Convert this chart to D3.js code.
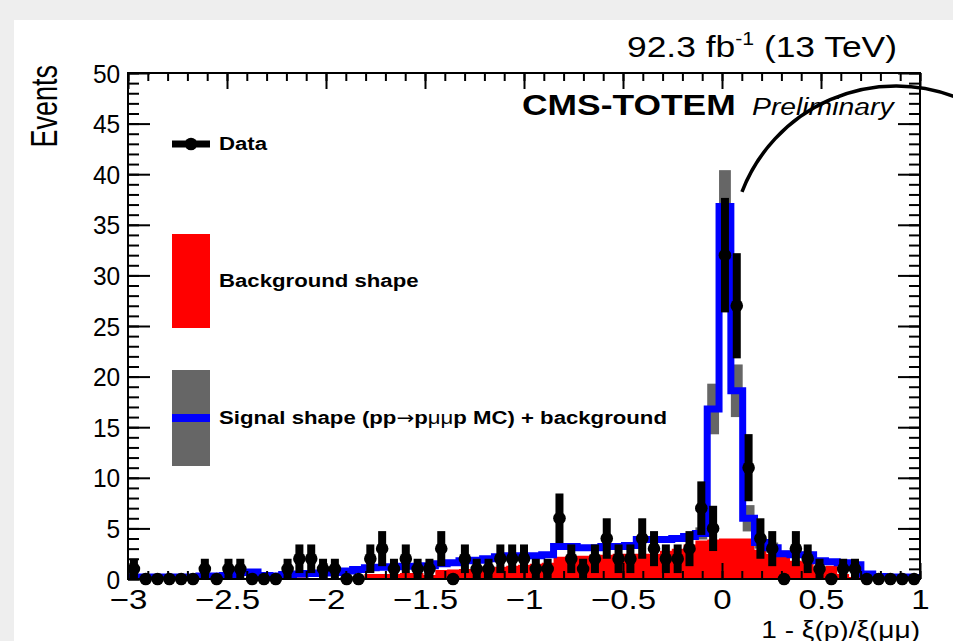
<!DOCTYPE html>
<html>
<head>
<meta charset="utf-8">
<script src="https://cdn.jsdelivr.net/npm/d3@7"></script>
<style>
body { margin: 0; background: #eeeeee; }
svg { display: block; }
text { font-family: "Liberation Sans", Arial, Helvetica, sans-serif; fill: #000; }
</style>
</head>
<body>
<svg id="chart" width="953" height="641"></svg>
<script>
// histogram binning: 67 equal bins from -3 to 1
const xLo = -3, xHi = 1, nBins = 67;

// data counts per bin
const dataCounts = [1,0,0,0,0,0,1,0,1,1,
                    0,0,0,1,2,2,1,1,0,0,
                    2,3,1,2,1,1,3,0,2,1,
                    1,2,2,2,1,1,6,2,1,2,
                    4,2,2,4,3,2,2,3,7,5,
                    32,27,11,4,3,0,3,2,1,0,
                    1,1,0,0,0,0,0];

// signal shape (pp->pmumup MC) + background
const totalShape = [0.2,0.2,0.2,0.2,0.2,0.2,0.3,0.3,0.35,0.65,
                    0.7,0.35,0.3,0.45,0.5,0.55,0.6,0.65,0.8,0.95,
                    1.1,1.15,1.2,1.25,1.25,1.3,1.5,1.6,1.8,1.85,
                    2.0,2.2,2.3,2.3,2.3,2.4,3.2,3.2,3.1,3.1,
                    3.2,3.2,3.3,3.9,3.9,3.9,4.0,4.2,4.5,16.8,
                    36.8,18.6,6.0,3.6,3.1,2.5,2.4,2.4,1.8,1.7,
                    1.6,1.4,0.5,0.25,0.2,0.2,0.15];

// uncertainty of the MC shape (half height of grey band)
const shapeErr = [0.1,0.1,0.1,0.1,0.1,0.1,0.1,0.1,0.1,0.1,
                  0.1,0.1,0.1,0.1,0.1,0.1,0.1,0.1,0.1,0.1,
                  0.15,0.15,0.15,0.15,0.15,0.15,0.15,0.15,0.15,0.15,
                  0.2,0.2,0.2,0.2,0.2,0.2,0.2,0.2,0.2,0.2,
                  0.25,0.25,0.25,0.3,0.3,0.3,0.3,0.35,0.6,2.5,
                  3.6,2.6,1.3,0.6,0.5,0.3,0.3,0.3,0.25,0.25,
                  0.25,0.25,0.15,0.1,0.1,0.1,0.1];

// background shape
const bkgShape = [0,0,0,0,0,0,0,0,0,0,
                  0,0,0,0,0.15,0,0,0,0,0,
                  0.5,0.5,0.5,0.6,0.6,0.4,0.9,0.95,1.0,1.0,
                  1.1,1.2,1.3,1.4,1.5,1.6,2.2,2.3,2.3,2.4,
                  2.4,2.5,2.5,2.5,2.5,2.8,3.0,3.4,3.8,3.9,
                  4.0,4.0,4.0,2.9,2.5,2.3,1.8,1.7,1.0,1.3,
                  0.5,0.2,0,0,0,0,0];

const xTicks = [-3, -2.5, -2, -1.5, -1, -0.5, 0, 0.5, 1];
const xTickLabels = ["\u22123", "\u22122.5", "\u22122", "\u22121.5", "\u22121", "\u22120.5", "0", "0.5", "1"];
const yTicks = [0, 5, 10, 15, 20, 25, 30, 35, 40, 45, 50];

const legendLabels = ["Data", "Background shape"];

const W = 953, H = 641;
const frame = {left: 128, right: 920, top: 73, bottom: 579};
const SX = 1.18; // the original text is a bit wider than the font

const svg = d3.select("#chart");

let x = d3.scaleLinear().domain([xLo, xHi]).range([frame.left, frame.right]);
let y = d3.scaleLinear().domain([0, 50]).range([frame.bottom, frame.top]);

const binW = (xHi - xLo) / nBins;
const edges = d3.range(nBins + 1).map(i => xLo + i * binW);
const centers = d3.range(nBins).map(i => xLo + (i + 0.5) * binW);

// page
svg.append("rect").attr("width", W).attr("height", H).attr("fill", "#eeeeee");
svg.append("rect").attr("x", 14).attr("y", 20).attr("width", W - 14).attr("height", H - 20).attr("fill", "#ffffff");

svg.append("clipPath").attr("id", "plotclip")
    .append("rect")
    .attr("x", frame.left).attr("y", frame.top)
    .attr("width", frame.right - frame.left).attr("height", frame.bottom - frame.top);

let plot = svg.append("g").attr("clip-path", "url(#plotclip)");

let stepPts = vals => vals.map((v, i) => [edges[i], v]).concat([[edges[nBins], vals[nBins - 1]]]);

// background (red fill)
plot.append("path")
    .datum(stepPts(bkgShape))
    .attr("fill", "#ff0000")
    .attr("d", d3.area().curve(d3.curveStepAfter)
        .x(d => x(d[0])).y0(y(0)).y1(d => y(d[1])));

// MC uncertainty band
plot.selectAll("rect.band")
    .data(totalShape)
    .join("rect")
    .attr("class", "band")
    .attr("x", (d, i) => x(edges[i]))
    .attr("width", (d, i) => x(edges[i + 1]) - x(edges[i]))
    .attr("y", (d, i) => y(d + shapeErr[i]))
    .attr("height", (d, i) => y(Math.max(0, d - shapeErr[i])) - y(d + shapeErr[i]))
    .attr("fill", "#666666");

// signal + background line
plot.append("path")
    .datum(stepPts(totalShape))
    .attr("fill", "none")
    .attr("stroke", "#0000ff")
    .attr("stroke-width", 7)
    .attr("d", d3.line().curve(d3.curveStepAfter)
        .x(d => x(d[0])).y(d => y(d[1])));

// axes
function styleAxis(g) {
    g.select(".domain").remove();
    g.selectAll(".tick line").attr("stroke", "#000").attr("stroke-width", 2);
}
const yMinor = d3.range(0, 51);
const xMinor = d3.range(-30, 11).map(i => i / 10);

svg.append("g").attr("transform", `translate(${frame.left},0)`)
    .call(d3.axisLeft(y).tickValues(yMinor).tickSize(-11).tickFormat("")).call(styleAxis);
let yAxis = svg.append("g").attr("transform", `translate(${frame.left},0)`)
    .call(d3.axisLeft(y).tickValues(yTicks).tickSize(-22).tickPadding(8)).call(styleAxis);
svg.append("g").attr("transform", `translate(${frame.right},0)`)
    .call(d3.axisRight(y).tickValues(yMinor).tickSize(-11).tickFormat("")).call(styleAxis);
svg.append("g").attr("transform", `translate(${frame.right},0)`)
    .call(d3.axisRight(y).tickValues(yTicks).tickSize(-22).tickFormat("")).call(styleAxis);

svg.append("g").attr("transform", `translate(0,${frame.bottom})`)
    .call(d3.axisBottom(x).tickValues(xMinor).tickSize(-8).tickFormat("")).call(styleAxis);
let xAxis = svg.append("g").attr("transform", `translate(0,${frame.bottom})`)
    .call(d3.axisBottom(x).tickValues(xTicks).tickSize(-16).tickPadding(10)
        .tickFormat((d, i) => xTickLabels[i])).call(styleAxis);
svg.append("g").attr("transform", `translate(0,${frame.top})`)
    .call(d3.axisTop(x).tickValues(xMinor).tickSize(-8).tickFormat("")).call(styleAxis);
svg.append("g").attr("transform", `translate(0,${frame.top})`)
    .call(d3.axisTop(x).tickValues(xTicks).tickSize(-16).tickFormat("")).call(styleAxis);

yAxis.selectAll("text")
    .attr("font-family", "Liberation Sans, Arial, sans-serif")
    .attr("font-size", 25).attr("fill", "#000")
    .attr("dy", "0.36em")
    .attr("transform", "scale(0.98,1)");
xAxis.selectAll("text")
    .attr("font-family", "Liberation Sans, Arial, sans-serif")
    .attr("font-size", 28).attr("fill", "#000")
    .attr("transform", `scale(${SX},1)`);

svg.append("rect")
    .attr("x", frame.left).attr("y", frame.top)
    .attr("width", frame.right - frame.left).attr("height", frame.bottom - frame.top)
    .attr("fill", "none").attr("stroke", "#000").attr("stroke-width", 2);

// data points with poisson errors
let pts = svg.append("g");
pts.selectAll("rect.err")
    .data(dataCounts.map((d, i) => ({c: centers[i], n: d})).filter(d => d.n > 0))
    .join("rect")
    .attr("class", "err")
    .attr("x", d => x(d.c) - 4)
    .attr("width", 8)
    .attr("y", d => y(d.n + Math.sqrt(d.n)))
    .attr("height", d => y(d.n - Math.sqrt(d.n)) - y(d.n + Math.sqrt(d.n)))
    .attr("fill", "#000");
pts.selectAll("circle")
    .data(dataCounts)
    .join("circle")
    .attr("cx", (d, i) => x(centers[i]))
    .attr("cy", d => y(d))
    .attr("r", 6.3)
    .attr("fill", "#000");

// texts
function addText(txt, px, py, size, opts = {}) {
    return svg.append("text")
        .attr("transform", `translate(${px},${py}) scale(${opts.sx || SX},1)` + (opts.rotate ? ` rotate(${opts.rotate})` : ""))
        .attr("text-anchor", opts.anchor || "start")
        .attr("font-size", size)
        .attr("font-weight", opts.bold ? "bold" : "normal")
        .attr("font-style", opts.italic ? "italic" : "normal")
        .text(txt);
}

addText("Events", 57, 65, 27, {anchor: "end", rotate: -90, sx: 1.35});

let lumi = svg.append("text")
    .attr("transform", `translate(897,57) scale(${SX},1)`)
    .attr("text-anchor", "end")
    .attr("font-size", 30);
lumi.append("tspan").text("92.3 fb");
lumi.append("tspan").attr("font-size", 18).attr("dy", -12).text("-1");
lumi.append("tspan").attr("dy", 12).text(" (13 TeV)");

addText("CMS-TOTEM", 522, 115, 30, {bold: true});
addText("Preliminary", 752, 115, 24, {italic: true});

addText("1 - \u03be(p)/\u03be(\u03bc\u03bc)", 920, 638, 23, {anchor: "end", sx: 1.22});

// legend
let leg = svg.append("g");
leg.append("line").attr("x1", 172).attr("x2", 210).attr("y1", 144).attr("y2", 144)
    .attr("stroke", "#000").attr("stroke-width", 7);
leg.append("circle").attr("cx", 191).attr("cy", 144).attr("r", 6.3).attr("fill", "#000");
leg.append("rect").attr("x", 172).attr("y", 234).attr("width", 38).attr("height", 94).attr("fill", "#ff0000");
leg.append("rect").attr("x", 172).attr("y", 370).attr("width", 38).attr("height", 96).attr("fill", "#666666");
leg.append("line").attr("x1", 172).attr("x2", 210).attr("y1", 418).attr("y2", 418)
    .attr("stroke", "#0000ff").attr("stroke-width", 8);

addText(legendLabels[0], 219, 150, 18.8, {bold: true});
addText(legendLabels[1], 219, 287, 18.8, {bold: true});
let sig = svg.append("text")
    .attr("transform", `translate(219,424) scale(${SX},1)`)
    .attr("font-size", 18.8).attr("font-weight", "bold");
sig.append("tspan").text("Signal shape (pp");
sig.append("tspan").attr("font-weight", "normal").attr("font-family", "DejaVu Sans, sans-serif").attr("font-size", 18).text("\u2192");
sig.append("tspan").text("p");
sig.append("tspan").attr("font-weight", "normal").text("\u03bc\u03bc");
sig.append("tspan").text("p MC) + background");

// annotation arc
let arcPath = d3.path();
arcPath.arc(896, 251, 165, -159 * Math.PI / 180, -68 * Math.PI / 180);
svg.append("path").attr("d", arcPath.toString())
    .attr("fill", "none").attr("stroke", "#000").attr("stroke-width", 3.5);
</script>
</body>
</html>
